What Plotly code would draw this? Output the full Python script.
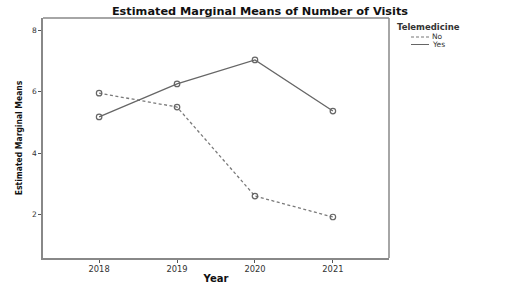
import plotly.graph_objects as go

years = ["2018", "2019", "2020", "2021"]
no_values = [5.95, 5.50, 2.61, 1.93]
yes_values = [5.18, 6.25, 7.03, 5.37]
y_ticks = [2, 4, 6, 8]
legend_title = "Telemedicine"
series_names = ["No", "Yes"]

line_col = "#666666"
W, H = 520, 292
L, R, T, B = 43, 389, 18, 258

fig = go.Figure()
fig.add_trace(go.Scatter(
    x=years, y=no_values, name=series_names[0], mode="lines+markers", showlegend=False,
    line=dict(color="#7a7a7a", width=1.3, dash="3px,2.5px"),
    marker=dict(symbol="circle-open", size=5.5, color="#666", line=dict(width=1.2)),
))
fig.add_trace(go.Scatter(
    x=years, y=yes_values, name=series_names[1], mode="lines+markers", showlegend=False,
    line=dict(color=line_col, width=1.3),
    marker=dict(symbol="circle-open", size=5.5, color="#666", line=dict(width=1.2)),
))

def px(x):
    return x / W

def py(y):
    return 1 - y / H

annotations = [
    dict(text="<b>" + legend_title + "</b>", xref="paper", yref="paper",
         x=px(395), y=py(27), xanchor="left", yanchor="middle", showarrow=False,
         font=dict(family="DejaVu Sans", size=8.5, color="#333")),
    dict(text=series_names[0], xref="paper", yref="paper",
         x=px(430), y=py(37), xanchor="left", yanchor="middle", showarrow=False,
         font=dict(family="DejaVu Sans", size=7.5, color="#333")),
    dict(text=series_names[1], xref="paper", yref="paper",
         x=px(430), y=py(44.5), xanchor="left", yanchor="middle", showarrow=False,
         font=dict(family="DejaVu Sans", size=7.5, color="#333")),
]

shapes = [
    dict(type="line", xref="x domain", yref="y domain", x0=1, x1=1, y0=0, y1=1,
         line=dict(color="#888", width=1.5)),
    dict(type="line", xref="x domain", yref="y domain", x0=0, x1=1, y0=1, y1=1,
         line=dict(color="#888", width=1.5)),
    dict(type="line", xref="paper", yref="paper", x0=px(411), x1=px(429), y0=py(37), y1=py(37),
         line=dict(color="#777", width=1, dash="3px,2px")),
    dict(type="line", xref="paper", yref="paper", x0=px(411), x1=px(429), y0=py(44.5), y1=py(44.5),
         line=dict(color="#666", width=1)),
]

fig.update_layout(
    width=W, height=H,
    margin=dict(l=0, r=0, t=0, b=0),
    paper_bgcolor="white", plot_bgcolor="white",
    font=dict(family="DejaVu Sans", size=8, color="#333"),
    title=dict(text="<b>Estimated Marginal Means of Number of Visits</b>",
               x=0.5, xref="container", xanchor="center", y=1 - 11 / H, yref="container",
               yanchor="middle",
               font=dict(family="DejaVu Sans", size=11.3, color="#111")),
    xaxis=dict(type="category", range=[-0.72, 3.72], domain=[px(L), px(R)],
               showgrid=False, showline=True, linecolor="#888", linewidth=1.5,
               ticks="outside", ticklen=3, tickcolor="#555", ticklabelstandoff=-1,
               tickfont=dict(family="DejaVu Sans", size=8.3, color="#333"),
               automargin=False,
               title=dict(text="<b>Year</b>", standoff=2,
                          font=dict(family="DejaVu Sans", size=10, color="#111"))),
    yaxis=dict(range=[0.6, 8.39], tickvals=y_ticks, domain=[py(B), py(T)],
               showgrid=False, zeroline=False,
               showline=True, linecolor="#888", linewidth=1.5,
               ticks="outside", ticklen=3, tickcolor="#555",
               tickfont=dict(family="DejaVu Sans", size=7.5, color="#333"),
               automargin=False,
               title=dict(text="<b>Estimated Marginal Means</b>", standoff=8,
                          font=dict(family="Liberation Sans Narrow, DejaVu Sans Condensed",
                                    size=8.5, color="#111"))),
    annotations=annotations,
    shapes=shapes,
)

fig.write_html("out.html", config={"displayModeBar": False},
               post_script="document.body.style.margin='0px';")
